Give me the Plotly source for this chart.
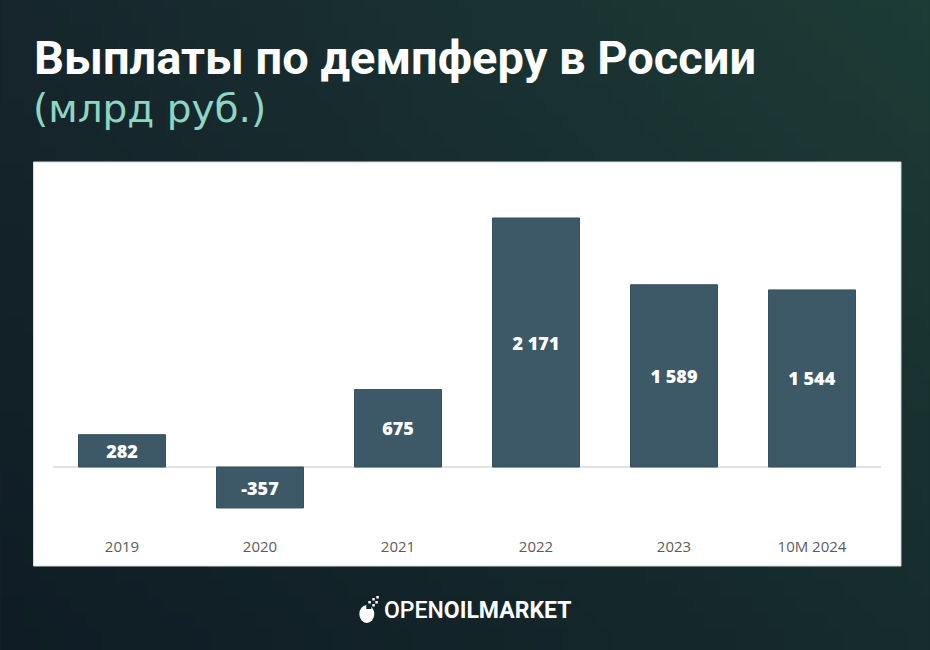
import base64, struct, zlib
import plotly.graph_objects as go

# ---------------- data ----------------
categories = ["2019", "2020", "2021", "2022", "2023", "10M 2024"]
values = [282, -357, 675, 2171, 1589, 1544]
value_labels = ["282", "-357", "675", "2 171", "1 589", "1 544"]

W, H = 930, 650
PL, PR, PT, PB = 52.5, 881.0, 190.0, 530.0   # plot area in px


def px_x(px):
    return (px - PL) / (PR - PL)


def px_y(py):
    return (PB - py) / (PB - PT)


# ---------- background gradient as inline PNG ----------
def make_png(w, h, corners):
    tl, tr, bl, br = corners
    rows = b""
    for j in range(h):
        v = j / (h - 1)
        rows += b"\x00"
        for i in range(w):
            u = i / (w - 1)
            px = []
            for k in range(3):
                top = tl[k] * (1 - u) + tr[k] * u
                bot = bl[k] * (1 - u) + br[k] * u
                px.append(int(round(top * (1 - v) + bot * v)))
            rows += bytes(px)
    def chunk(t, d):
        c = struct.pack(">I", len(d)) + t + d
        return c + struct.pack(">I", zlib.crc32(t + d) & 0xffffffff)
    png = b"\x89PNG\r\n\x1a\n"
    png += chunk(b"IHDR", struct.pack(">IIBBBBB", w, h, 8, 2, 0, 0, 0))
    png += chunk(b"IDAT", zlib.compress(rows, 9))
    png += chunk(b"IEND", b"")
    return "data:image/png;base64," + base64.b64encode(png).decode()

bg_src = make_png(60, 42, [(22, 38, 44), (29, 60, 54), (15, 28, 37), (22, 44, 45)])

fig = go.Figure()
fig.add_trace(go.Bar(
    x=categories, y=values,
    marker=dict(color="#3d5968", line=dict(color="#35505e", width=1)),
    text=value_labels, textposition="inside", insidetextanchor="middle",
    textangle=0, constraintext="none",
    textfont=dict(family="Open Sans", size=18, color="white", weight=800),
    hoverinfo="skip",
))

shapes = [
    # white panel
    dict(type="rect", xref="paper", yref="paper",
         x0=px_x(33), x1=px_x(901), y0=px_y(566), y1=px_y(162),
         fillcolor="white", line=dict(color="#d9d9d9", width=1), layer="below"),
    # logo icon
    dict(type="circle", xref="paper", yref="paper",
         x0=px_x(359), x1=px_x(374), y0=px_y(623), y1=px_y(605),
         fillcolor="white", line=dict(width=0)),
    dict(type="rect", xref="paper", yref="paper",
         x0=px_x(366), x1=px_x(371), y0=px_y(609), y1=px_y(604),
         fillcolor="#16282f", line=dict(width=0)),
]
for (a, b) in [(368, 601), (372, 598), (375, 601), (372, 604), (376, 596)]:
    shapes.append(dict(type="rect", xref="paper", yref="paper",
                       x0=px_x(a), x1=px_x(a + 2.5), y0=px_y(b + 2.5), y1=px_y(b),
                       fillcolor="white", line=dict(width=0)))

annotations = [
    dict(text="Выплаты по демпферу в России", xref="paper", yref="paper",
         x=px_x(31), y=px_y(57.5), xanchor="left", yanchor="middle", showarrow=False,
         font=dict(family="Roboto", size=47, color="white", weight=700)),
    dict(text="(млрд руб.)", xref="paper", yref="paper",
         x=px_x(30), y=px_y(109), xanchor="left", yanchor="middle", showarrow=False,
         font=dict(family="DejaVu Sans", size=39, color="#8fd5c3", weight=400)),
    dict(text="OPEN<b>OILMARKET</b>", xref="paper", yref="paper",
         x=px_x(382), y=px_y(610), xanchor="left", yanchor="middle", showarrow=False,
         font=dict(family="Roboto", size=23, color="white", weight=500)),
]

fig.update_layout(
    width=W, height=H,
    margin=dict(l=PL, r=W - PR, t=PT, b=H - PB, pad=0),
    paper_bgcolor="#13232b", plot_bgcolor="white",
    bargap=0.37, showlegend=False,
    images=[dict(source=bg_src, xref="paper", yref="paper",
                 x=px_x(0), y=px_y(0), sizex=px_x(W) - px_x(0), sizey=px_y(0) - px_y(H),
                 xanchor="left", yanchor="top", sizing="stretch", layer="below")],
    shapes=shapes, annotations=annotations,
    xaxis=dict(showgrid=False, showline=False, ticks="", fixedrange=True,
               tickfont=dict(family="Open Sans", size=15, color="#5c5c5c"),
               ticklabelstandoff=6),
    yaxis=dict(range=[-549, 2415], showgrid=False, showticklabels=False,
               zeroline=True, zerolinecolor="#e2e2e2", zerolinewidth=2,
               fixedrange=True),
)

fig.write_html("out.html")
